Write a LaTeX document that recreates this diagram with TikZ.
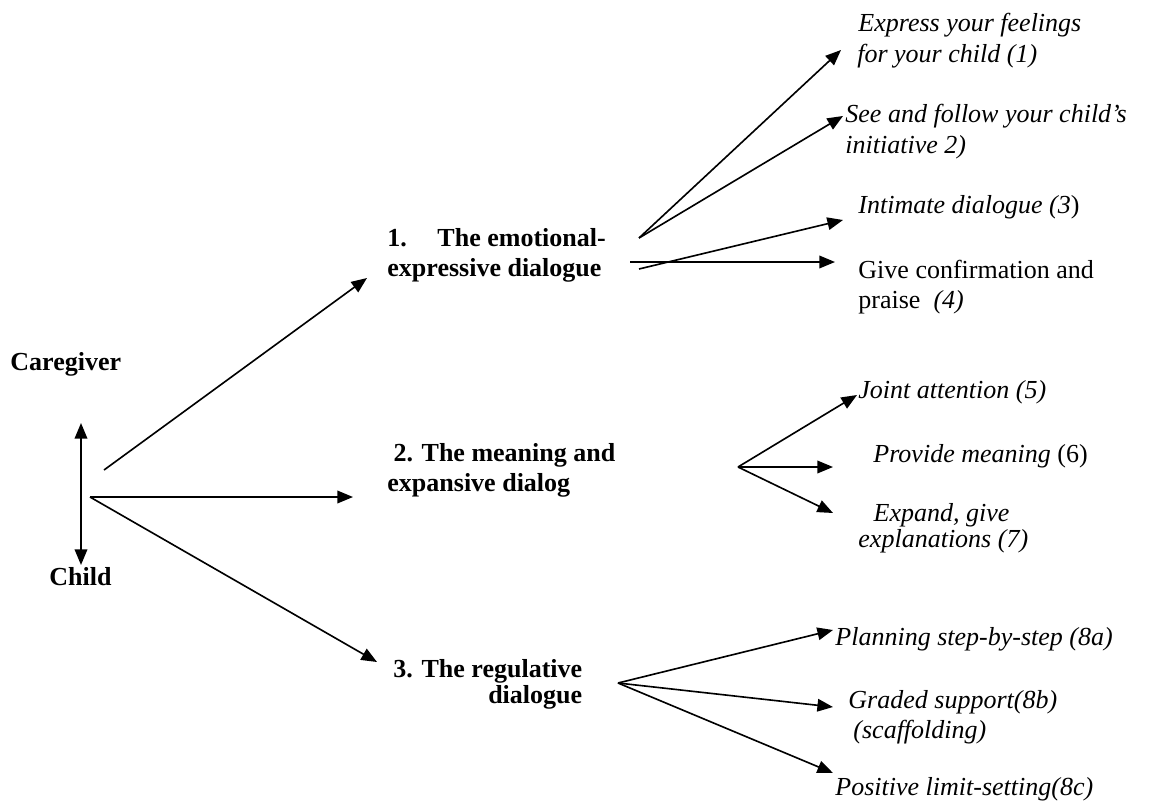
\documentclass[tikz,border=0pt]{standalone}
\usepackage{fontspec}
\setmainfont{Liberation Serif}
\usetikzlibrary{arrows.meta}
\newcommand{\twol}[4][0pt]{\begin{tabular}[t]{@{}#2@{}}#3\\[#1]#4\end{tabular}}
\begin{document}
\begin{tikzpicture}[x=0.4615pt,y=-0.4615pt,
  conn/.style={line width=0.75pt,-{Triangle[length=7.2pt,width=5.8pt]}},
  dbl/.style={line width=0.75pt,{Triangle[length=7.2pt,width=5.8pt]}-{Triangle[length=7.2pt,width=5.8pt]}},
  lbl/.style={inner sep=0pt,anchor=base west,font=\fontsize{12}{13.85}\selectfont\itshape},
  head/.style={inner sep=0pt,anchor=base west,font=\fontsize{12}{13.85}\selectfont\bfseries}]
\useasboundingbox (0,0) rectangle (1153,802);

% left side
\node[head] (care) at (10,370) {Caregiver};
\node[head] (child) at (49,585) {Child};
\coordinate (cgtip) at (81,423);
\coordinate (chtip) at (81,565);
\draw[dbl] (cgtip) -- (chtip);

% main dialogues
\node[head] (d1) at (387,246) {\twol{l}{1.\hspace{14.1pt}The emotional-}{expressive dialogue}};
\node[head] (d2) at (387,461) {\twol{l}{\hspace*{2.8pt}2. The meaning and}{expansive dialog}};
\node[head] (d3) at (393,677) {\twol[-1.85pt]{r}{3. The regulative}{dialogue}};

\coordinate (o) at (90,497);
\coordinate (o1) at (104,470);
\coordinate (t1) at (367,278);
\coordinate (t2) at (353,497);
\coordinate (t3) at (377,662);
\draw[conn] (o1) -- (t1);
\draw[conn] (o) -- (t2);
\draw[conn] (o) -- (t3);

% emotional-expressive branches
\node[lbl] (e1) at (858,32) {\twol{l}{Express your feelings}{\hspace*{-0.5pt}for your child (1)}};
\node[lbl] (e2) at (845,123) {\twol{l}{See and follow your child's}{initiative 2)}};
\node[lbl] (e3) at (858,213) {Intimate dialogue (3\/{\upshape)}};
\node[lbl,font=\fontsize{12}{13.85}\selectfont] (e4) at (858,278) {\twol{l}{Give confirmation and}{praise \ \textit{(4)}}};
\coordinate (ea) at (639,238);
\coordinate (eb) at (639,269);
\coordinate (ec) at (630,262);
\coordinate (te1) at (841,50);
\coordinate (te2) at (843,116);
\coordinate (te3) at (843,220);
\coordinate (te4) at (835,262);
\draw[conn] (ea) -- (te1);
\draw[conn] (ea) -- (te2);
\draw[conn] (eb) -- (te3);
\draw[conn] (ec) -- (te4);

% meaning branches
\node[lbl] (m1) at (858,398) {Joint attention (5)};
\node[lbl] (m2) at (873,462) {Provide meaning {\upshape(6)}};
\node[lbl] (m3) at (858,521) {\twol[-1.6pt]{l}{\hspace*{7pt}Expand, give}{explanations (7)}};
\coordinate (mo) at (738,467);
\coordinate (tm1) at (857,395);
\coordinate (tm2) at (833,467);
\coordinate (tm3) at (833,513);
\draw[conn] (mo) -- (tm1);
\draw[conn] (mo) -- (tm2);
\draw[conn] (mo) -- (tm3);

% regulative branches
\node[lbl] (r1) at (835,645) {Planning step-by-step (8a)};
\node[lbl] (r2) at (848,708) {\twol{l}{Graded support(8b)}{\hspace*{2.3pt}(scaffolding)}};
\node[lbl] (r3) at (835,795) {Positive limit-setting(8c)};
\coordinate (ro) at (618,683);
\coordinate (tr1) at (833,630);
\coordinate (tr2) at (833,707);
\coordinate (tr3) at (833,773);
\draw[conn] (ro) -- (tr1);
\draw[conn] (ro) -- (tr2);
\draw[conn] (ro) -- (tr3);
\end{tikzpicture}
\end{document}
